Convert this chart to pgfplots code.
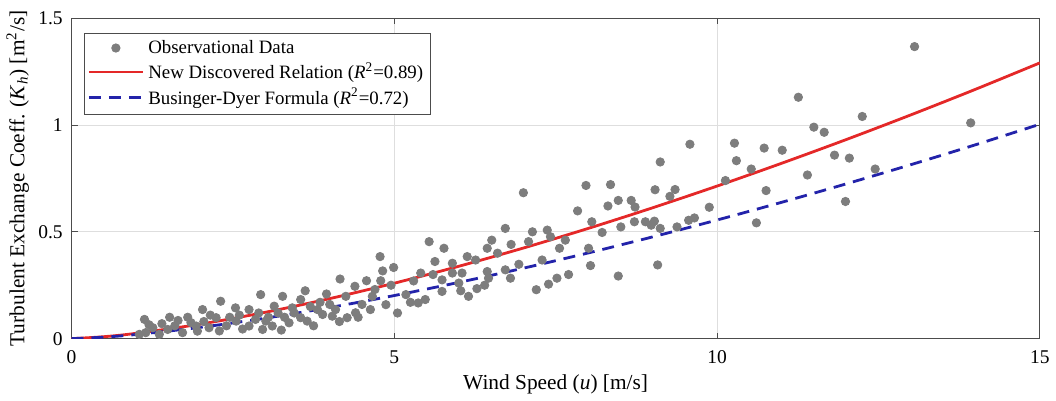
\documentclass[border=0pt]{standalone}
\usepackage{fontspec}
\setmainfont{Liberation Serif}
\usepackage{pgfplots}
\pgfplotsset{compat=1.18}
\definecolor{dotgray}{RGB}{125,125,125}
\definecolor{fitred}{RGB}{228,40,40}
\definecolor{bdblue}{RGB}{35,35,170}
\begin{document}
\fontsize{9.75}{11.5}\selectfont
\begin{tikzpicture}
\begin{axis}[
  width=485pt, height=160.5pt, scale only axis,
  xmin=0, xmax=15, ymin=0, ymax=1.5,
  xtick={0,5,10,15}, ytick={0,0.5,1,1.5},
  yticklabels={0,0.5,1,1.5},
  grid=major, grid style={black!13, line width=0.4pt},
  tick align=inside, major tick length=3pt,
  axis line style={black!70, line width=0.5pt},
  tick style={black!70, line width=0.4pt},
  ticklabel style={font=\fontsize{9.75}{11}\selectfont},
  xticklabel style={yshift=-2.5pt},
  yticklabel style={xshift=-1pt},
  /pgf/number format/assume math mode=true,
  xlabel={Wind Speed (\textit{u}) [m/s]},
  ylabel={Turbulent Exchange Coeff. (\textit{K}\textsubscript{\textit{h}}) [m\textsuperscript{2}/s]},
  label style={font=\fontsize{10.7}{12}\selectfont},
  xlabel style={yshift=1pt},
  ylabel style={yshift=-2pt},
  legend style={at={(axis description cs:0.013,0.955)}, anchor=north west,
    draw=black!70, line width=0.4pt, font=\fontsize{9.45}{11}\selectfont,
    inner sep=1.5pt, row sep=-0.8pt},
  legend cell align=left,
  legend image code/.code={\draw[mark repeat=2,mark phase=2,#1] plot coordinates {(0cm,0cm) (0.475cm,0cm) (0.95cm,0cm)};},
]
\addplot[only marks, mark=*, mark size=2.1pt, color=dotgray, mark options={draw=none, fill=dotgray}] coordinates {
(13.06,1.367)(11.26,1.13)(12.25,1.04)(11.5,0.99)(11.66,0.966)(13.93,1.01)(11.82,0.859)(12.05,0.845)(11.4,0.766)(12.45,0.794)(11.99,0.642)
(9.58,0.91)(10.27,0.915)(10.73,0.892)(11.01,0.882)(9.12,0.827)(10.3,0.833)(10.53,0.794)(10.13,0.74)(9.04,0.697)(9.35,0.698)(9.27,0.666)(10.76,0.693)(8.47,0.647)(8.67,0.647)(8.73,0.616)(9.88,0.615)(8.89,0.547)(9.03,0.55)(8.72,0.547)(8.98,0.531)(9.12,0.516)(8.51,0.523)(9.56,0.554)(9.65,0.565)(9.38,0.523)(10.61,0.542)(9.08,0.345)(8.47,0.293)
(7.0,0.683)(7.97,0.717)(8.35,0.721)(7.84,0.598)(8.31,0.621)(8.06,0.547)(6.72,0.516)(7.14,0.5)(7.37,0.508)(7.42,0.477)(7.65,0.461)(8.22,0.497)(6.51,0.461)(6.81,0.441)(7.08,0.454)(6.44,0.423)(5.77,0.423)(7.56,0.423)(8.01,0.423)(6.13,0.384)(6.26,0.368)(5.9,0.353)(7.29,0.368)(6.93,0.348)(8.04,0.342)(6.44,0.314)(6.72,0.322)(5.9,0.307)(6.05,0.307)(6.46,0.283)(6.8,0.283)(5.74,0.275)(6.0,0.26)(7.52,0.283)(7.39,0.255)(5.74,0.221)(6.03,0.224)(6.28,0.234)(6.15,0.198)(7.2,0.229)
(5.54,0.454)(4.78,0.384)(5.63,0.361)(4.82,0.317)(4.99,0.333)(5.41,0.307)(4.16,0.279)(4.57,0.271)(4.79,0.271)(4.39,0.245)(3.62,0.224)(3.27,0.198)(3.95,0.209)(3.55,0.183)(4.25,0.198)(4.66,0.198)(5.18,0.206)(5.48,0.183)(4.87,0.159)(3.14,0.152)(3.42,0.144)(3.81,0.136)(4.09,0.136)(4.63,0.136)(4.4,0.121)(4.04,0.105)(4.27,0.098)(4.44,0.1)(3.55,0.098)(3.37,0.074)(3.65,0.082)(3.11,0.059)(3.89,0.113)(5.37,0.167)(5.25,0.17)
(2.93,0.206)(2.31,0.175)(2.54,0.144)(2.03,0.136)(2.75,0.136)(1.52,0.1)(1.13,0.09)(1.8,0.1)(2.24,0.098)(3.01,0.082)(2.55,0.082)(1.26,0.051)(1.49,0.043)(1.93,0.059)(2.13,0.051)(2.75,0.059)(1.05,0.02)(1.36,0.02)(1.72,0.028)(2.29,0.036)(2.96,0.043)(1.15,0.028)
(1.2,0.065)(1.4,0.07)(1.6,0.06)(1.65,0.085)(1.85,0.075)(1.95,0.035)(2.05,0.08)(2.15,0.11)(2.4,0.06)(2.45,0.1)(2.6,0.11)(2.65,0.045)(2.85,0.09)(2.9,0.12)(3.05,0.1)(3.2,0.12)(3.25,0.04)(3.3,0.1)(3.45,0.12)(3.7,0.15)(3.75,0.06)(3.85,0.17)(4.0,0.16)(4.15,0.08)(4.5,0.16)(4.7,0.23)(4.95,0.25)(5.05,0.12)(5.3,0.27)(5.6,0.3)(6.4,0.25)(6.6,0.4)(7.7,0.3)
};
\addlegendentry{Observational Data}
\addplot[smooth, color=fitred, line width=1.4pt] coordinates {
(0,0)(0.5,0.009)(1,0.0248)(2,0.0681)(3,0.1231)(4,0.1874)(5,0.2595)(6,0.3387)(7,0.4241)(8,0.5155)(9,0.6123)(10,0.7141)(11,0.8208)(12,0.9317)(13,1.0471)(14,1.1667)(15,1.2907)
};
\addlegendentry{New Discovered Relation (\textit{R}\textsuperscript{2}=0.89)}
\addplot[smooth, color=bdblue, line width=1.4pt, dash pattern=on 6pt off 4pt] coordinates {
(0,0)(0.5,0.007)(1,0.0193)(2,0.053)(3,0.0957)(4,0.1457)(5,0.2017)(6,0.2633)(7,0.3298)(8,0.4008)(9,0.4761)(10,0.5552)(11,0.6381)(12,0.7244)(13,0.8141)(14,0.9071)(15,1.0035)
};
\addlegendentry{Businger-Dyer Formula (\textit{R}\textsuperscript{2}=0.72)}
\end{axis}
\path ([yshift=2pt]current bounding box.north) ++(0,0);
\end{tikzpicture}
\end{document}
